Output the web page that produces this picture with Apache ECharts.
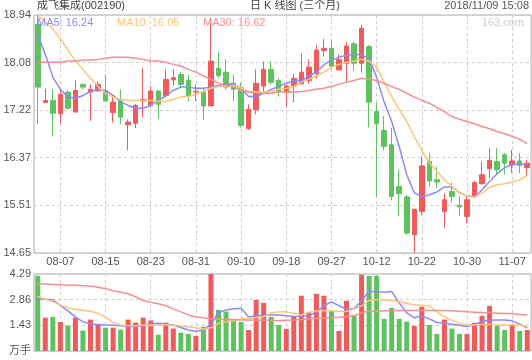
<!DOCTYPE html>
<html><head><meta charset="utf-8">
<script src="https://cdn.jsdelivr.net/npm/echarts@6/dist/echarts.min.js"></script>
<style>html,body{margin:0;padding:0;background:#fff}#c{width:532px;height:360px}</style>
</head><body><div id="c"></div>
<script>
const dates = ['08-02','08-03','08-06','08-07','08-08','08-09','08-10','08-13','08-14','08-15','08-16','08-17','08-20','08-21','08-22','08-23','08-24','08-27','08-28','08-29','08-30','08-31',
'09-03','09-04','09-05','09-06','09-07','09-10','09-11','09-12','09-13','09-14','09-17','09-18','09-19','09-20','09-21','09-25','09-26','09-27','09-28',
'10-08','10-09','10-10','10-11','10-12','10-15','10-16','10-17','10-18','10-19','10-22','10-23','10-24','10-25','10-26','10-29','10-30','10-31',
'11-01','11-02','11-05','11-06','11-07','11-08','11-09'];
const xLabelDates = ['08-07','08-15','08-23','08-31','09-10','09-18','09-27','10-12','10-22','10-30','11-07'];

const opens  = [18.77,17.36,17.40,17.16,17.55,17.19,17.69,17.55,17.57,17.58,17.18,17.39,16.96,16.99,17.39,17.31,17.57,17.49,17.77,17.87,17.76,17.55,17.55,17.30,17.98,17.91,17.71,17.63,16.89,17.23,17.66,17.96,17.76,17.55,17.66,17.70,17.76,17.88,18.30,18.34,17.95,18.07,18.42,18.07,18.37,17.20,16.86,16.60,15.85,15.66,14.98,15.40,16.30,15.97,15.40,15.76,15.51,15.31,15.66,15.90,16.17,16.30,16.42,16.24,16.31,16.19];
const closes = [17.64,17.40,17.17,17.51,17.26,17.58,17.64,17.60,17.69,17.39,17.37,17.10,17.01,17.31,17.42,17.57,17.33,17.78,17.81,17.69,17.49,17.56,17.30,18.11,17.85,17.64,17.60,16.95,17.24,17.71,17.96,17.73,17.55,17.66,17.80,17.91,18.00,18.31,18.34,18.02,18.14,18.38,18.07,18.70,17.37,16.98,16.57,15.67,15.72,15.01,15.44,16.22,15.95,15.93,15.61,15.67,15.48,15.61,15.92,16.06,16.32,16.15,16.27,16.31,16.23,16.27];
const lows   = [16.98,17.36,16.75,16.98,17.23,17.19,17.60,17.03,17.57,17.39,17.00,16.97,16.50,16.90,17.09,17.27,17.07,17.47,17.67,17.64,17.39,17.39,17.05,17.30,17.81,17.59,17.39,16.91,16.87,17.15,17.57,17.69,17.47,17.29,17.37,17.69,17.70,17.79,18.19,17.97,17.94,17.72,17.94,17.90,16.91,15.65,16.50,15.60,15.31,14.97,14.65,15.34,15.85,15.82,15.10,15.56,15.32,15.19,15.64,15.88,16.00,16.06,16.06,16.09,16.09,16.04];
const highs  = [18.94,17.61,17.60,17.59,17.59,17.76,17.70,17.69,17.75,17.87,17.49,17.60,17.06,17.34,17.99,17.66,17.58,17.96,17.96,17.91,17.87,17.69,17.63,18.87,18.28,18.14,17.87,17.72,17.33,17.96,18.10,18.10,17.80,17.69,17.88,18.25,18.14,18.40,18.51,18.49,18.23,18.46,18.46,18.76,18.40,17.36,17.12,16.91,16.15,15.70,15.44,16.39,16.45,16.21,15.72,15.92,15.67,15.68,15.95,16.30,16.54,16.54,16.45,16.51,16.45,16.33];

const ma5  = [18.58,18.23,17.82,17.60,17.46,17.44,17.49,17.56,17.60,17.58,17.49,17.38,17.31,17.26,17.26,17.31,17.40,17.48,17.58,17.64,17.64,17.62,17.62,17.64,17.67,17.69,17.69,17.62,17.47,17.47,17.53,17.60,17.65,17.71,17.75,17.75,17.84,17.91,18.04,18.13,18.18,18.22,18.23,18.23,18.14,17.82,17.37,17.02,16.57,16.06,15.74,15.66,15.70,15.75,15.84,15.84,15.74,15.68,15.66,15.79,15.94,16.08,16.19,16.24,16.26,16.24];
const ma10 = [18.94,18.81,18.69,18.51,18.31,18.11,17.96,17.80,17.65,17.53,17.46,17.42,17.40,17.40,17.40,17.40,17.38,17.38,17.42,17.46,17.47,17.51,17.56,17.62,17.65,17.65,17.67,17.62,17.56,17.55,17.55,17.56,17.60,17.62,17.65,17.73,17.78,17.84,17.91,18.00,18.05,18.09,18.11,18.14,18.11,18.00,17.73,17.47,17.24,17.02,16.75,16.50,16.28,16.12,15.97,15.85,15.74,15.68,15.66,15.73,15.83,15.88,15.90,15.93,15.97,16.05];
const ma30 = [18.09,18.09,18.09,18.09,18.11,18.11,18.13,18.13,18.14,18.16,18.18,18.18,18.18,18.16,18.14,18.11,18.11,18.09,18.05,18.02,17.96,17.91,17.84,17.78,17.71,17.67,17.64,17.58,17.55,17.53,17.53,17.53,17.55,17.55,17.55,17.56,17.58,17.60,17.62,17.65,17.69,17.73,17.76,17.80,17.78,17.76,17.71,17.65,17.60,17.53,17.46,17.40,17.35,17.27,17.20,17.11,17.06,17.02,16.98,16.93,16.89,16.84,16.80,16.75,16.70,16.62];

const volumes = [4.19,1.86,1.90,1.62,1.42,1.86,1.14,1.75,1.45,1.30,1.30,1.19,1.75,1.58,1.86,1.70,0.91,1.58,1.25,1.02,0.95,0.84,1.34,4.29,2.29,2.20,1.73,1.62,1.17,2.85,2.68,1.90,1.45,1.23,1.90,3.08,2.13,3.19,3.08,2.24,1.12,2.80,2.01,4.25,4.19,4.19,1.79,2.40,1.79,1.64,1.40,2.46,1.45,0.95,1.75,1.25,0.95,0.95,1.57,1.96,2.52,1.40,1.17,1.45,1.12,1.17];
const volMa5  = [2.89,2.88,2.85,2.54,2.24,1.90,1.62,1.51,1.48,1.45,1.43,1.40,1.37,1.36,1.40,1.51,1.54,1.51,1.45,1.31,1.17,1.09,1.17,1.51,2.13,2.29,2.35,2.38,1.90,1.96,2.01,2.01,2.01,1.96,1.92,1.93,1.96,2.18,2.52,2.74,2.52,2.33,2.35,2.80,3.33,3.30,3.27,3.32,2.67,2.13,1.85,1.96,1.79,1.59,1.54,1.49,1.43,1.37,1.48,1.64,1.71,1.73,1.73,1.68,1.51,1.27];
const volMa10 = [3.04,2.88,2.74,2.57,2.40,2.32,2.27,2.21,2.10,1.90,1.57,1.45,1.41,1.41,1.43,1.44,1.45,1.45,1.43,1.40,1.34,1.29,1.23,1.29,1.54,1.62,1.69,1.79,1.82,1.87,1.90,2.13,2.18,2.18,2.10,2.01,2.15,2.24,2.24,2.24,2.21,2.20,2.35,2.52,2.82,2.85,2.85,2.82,2.76,2.66,2.57,2.54,2.52,2.18,1.90,1.71,1.54,1.45,1.45,1.48,1.49,1.45,1.45,1.45,1.45,1.37];
const volMa30 = [3.75,3.73,3.71,3.69,3.67,3.66,3.64,3.61,3.55,3.47,3.36,3.27,3.19,3.02,2.81,2.71,2.63,2.52,2.35,2.18,2.01,1.90,1.85,1.79,1.77,1.76,1.75,1.73,1.73,1.72,1.71,1.71,1.69,1.71,1.73,1.76,1.79,1.81,1.83,1.85,1.88,1.92,1.96,2.13,2.21,2.22,2.24,2.25,2.26,2.26,2.26,2.26,2.26,2.26,2.26,2.24,2.21,2.18,2.16,2.14,2.13,2.11,2.09,2.07,2.04,2.01];

const priceTicks = [14.65,15.51,16.37,17.22,18.08,18.94];
const volTicks = [0,1.43,2.86,4.29];

const UP = '#ef5b5b', DOWN = '#5ec25e';
const C5 = '#8a8aff', C10 = '#ffc47a', C30 = '#f78f8f';
const FONT = '"Liberation Sans","Noto Sans CJK SC",sans-serif';

const showIdx = (i) => xLabelDates.indexOf(dates[i]) >= 0;
const ohlc = dates.map((d, i) => [opens[i], closes[i], lows[i], highs[i]]);
const volData = volumes.map((v, i) => ({value: v, itemStyle: {color: closes[i] >= opens[i] ? UP : DOWN}}));
const last = a => a[a.length - 1].toFixed(2);

const chart = echarts.init(document.getElementById('c'), null, {renderer: 'canvas'});
const gridLine = {show: true, interval: (i) => showIdx(i), alignWithLabel: true, lineStyle: {color: '#ccc', type: [3, 3], width: 1}};
const tStyle = (c) => ({fontSize: 11, fontWeight: 'normal', color: c, fontFamily: FONT});
const maLine = (c) => ({color: c, width: 1.5});
chart.setOption({
  animation: false,
  textStyle: {fontFamily: FONT},
  title: [
    {text: '成飞集成(002190)', left: 37, top: 0, padding: 0, textStyle: tStyle('#444')},
    {text: '日 K 线图 (三个月)', left: 250, top: 0, padding: 0, textStyle: tStyle('#444')},
    {text: '2018/11/09 15:08', right: 3, top: 0, padding: 0, textStyle: tStyle('#555')},
    {text: 'MA5: ' + last(ma5), left: 37, top: 17, padding: 0, textStyle: tStyle(C5)},
    {text: 'MA10: ' + last(ma10), left: 117, top: 17, padding: 0, textStyle: tStyle(C10)},
    {text: 'MA30: ' + last(ma30), left: 203, top: 17, padding: 0, textStyle: tStyle(C30)},
    {text: '163.com', right: 8, top: 17, padding: 0, textStyle: tStyle('#ccc')}
  ],
  grid: [
    {left: 34, right: 1, top: 15, height: 238, show: true, borderColor: '#aaa', borderWidth: 1, backgroundColor: 'transparent'},
    {left: 34, right: 1, top: 274, height: 77, show: true, borderColor: '#aaa', borderWidth: 1, backgroundColor: 'transparent'}
  ],
  xAxis: [
    {type: 'category', gridIndex: 0, data: dates, boundaryGap: true,
     axisLine: {show: false}, axisTick: {show: false},
     axisLabel: {interval: (i) => showIdx(i), color: '#555', fontSize: 11, margin: 3},
     splitLine: gridLine},
    {type: 'category', gridIndex: 1, data: dates, boundaryGap: true,
     axisLine: {show: false}, axisTick: {show: false}, axisLabel: {show: false},
     splitLine: gridLine}
  ],
  yAxis: [
    {type: 'value', gridIndex: 0, min: priceTicks[0], max: priceTicks[priceTicks.length - 1], scale: true,
     axisLine: {show: false}, axisTick: {show: false, customValues: priceTicks},
     axisLabel: {customValues: priceTicks, formatter: (v) => v.toFixed(2), color: '#555', fontSize: 11, margin: 3},
     splitLine: {show: true, lineStyle: {color: '#ccc', type: [3, 3]}}},
    {type: 'value', gridIndex: 1, min: 0, max: volTicks[volTicks.length - 1], interval: volTicks[1],
     axisLine: {show: false}, axisTick: {show: false},
     axisLabel: {formatter: (v) => v === 0 ? '万手' : v.toFixed(2), color: '#555', fontSize: 11, margin: 3},
     splitLine: {show: true, lineStyle: {color: '#ccc', type: [3, 3]}}}
  ],
  series: [
    {type: 'candlestick', xAxisIndex: 0, yAxisIndex: 0, data: ohlc, barWidth: 5,
     itemStyle: {color: UP, color0: DOWN, borderColor: UP, borderColor0: DOWN, borderWidth: 1}},
    {type: 'line', xAxisIndex: 0, yAxisIndex: 0, data: ma5, symbol: 'none', lineStyle: maLine(C5)},
    {type: 'line', xAxisIndex: 0, yAxisIndex: 0, data: ma10, symbol: 'none', lineStyle: maLine(C10)},
    {type: 'line', xAxisIndex: 0, yAxisIndex: 0, data: ma30, symbol: 'none', lineStyle: maLine(C30)},
    {type: 'bar', xAxisIndex: 1, yAxisIndex: 1, data: volData, barWidth: 5},
    {type: 'line', xAxisIndex: 1, yAxisIndex: 1, data: volMa5, symbol: 'none', lineStyle: maLine(C5)},
    {type: 'line', xAxisIndex: 1, yAxisIndex: 1, data: volMa10, symbol: 'none', lineStyle: maLine(C10)},
    {type: 'line', xAxisIndex: 1, yAxisIndex: 1, data: volMa30, symbol: 'none', lineStyle: maLine(C30)}
  ]
});
</script></body></html>
